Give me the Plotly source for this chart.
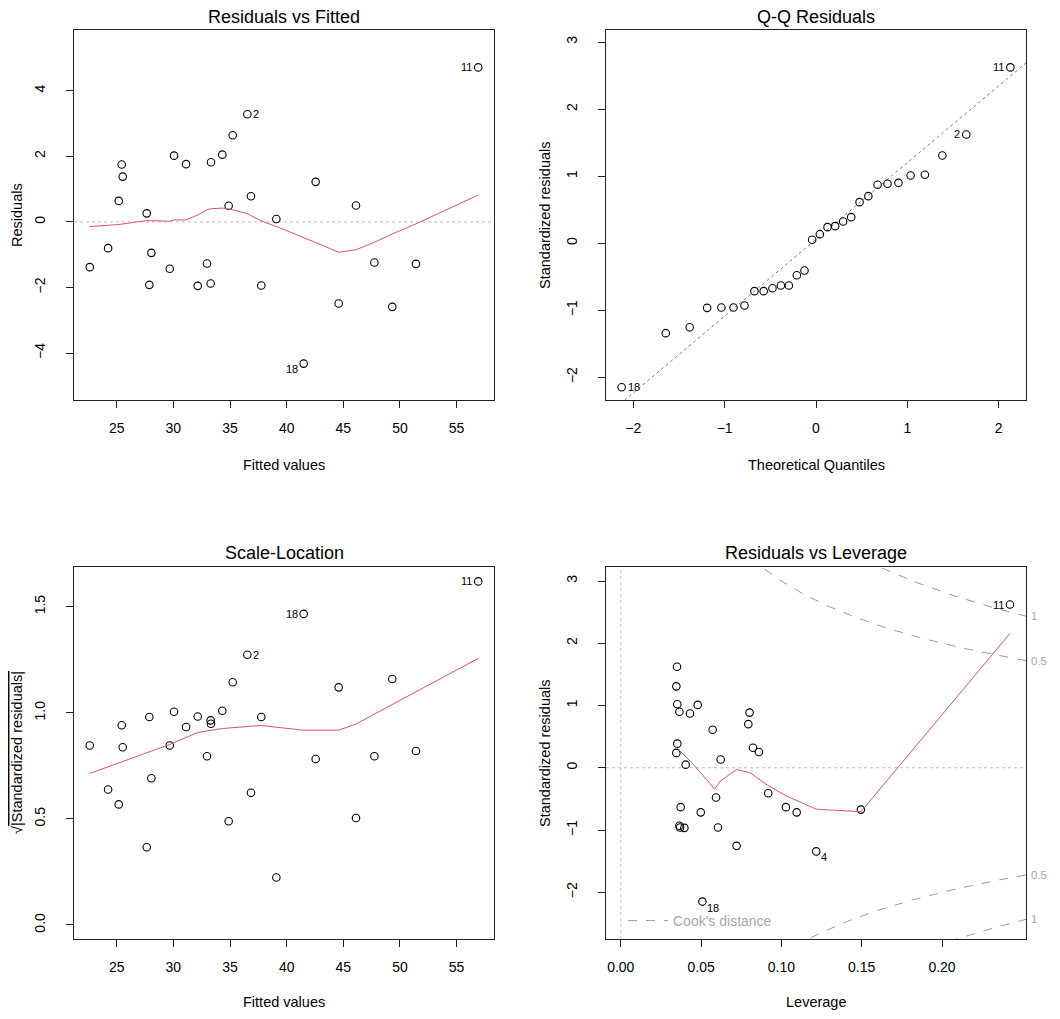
import numpy as np
import plotly.graph_objects as go

# ---------------- data ----------------
id_labels = ["", "", "", "", "", "", "", "", "", "", "", "", "", "", "",
             "", "", "", "2", "", "", "", "18", "", "", "", "", "4", "", "11"]
fitted = [22.62, 24.24, 25.18, 25.44, 25.53, 27.65, 27.88, 28.06, 29.68, 30.06,
          31.12, 32.15, 32.97, 33.29, 33.32, 34.32, 34.88, 35.24, 36.53, 36.85,
          37.76, 39.09, 41.50, 42.56, 44.59, 46.12, 47.74, 49.32, 51.41, 56.91]
residuals = [-1.38, -0.80, 0.64, 1.75, 1.38, 0.26, -1.92, -0.945, -1.43, 2.02,
             1.76, -1.95, -1.27, -1.88, 1.82, 2.05, 0.49, 2.64, 3.28, 0.78,
             -1.94, 0.09, -4.32, 1.22, -2.49, 0.50, -1.24, -2.59, -1.28, 4.71]
std_resid = [-0.716, -0.408, 0.323, 0.886, 0.701, 0.134, -0.960, -0.478, -0.716, 1.010,
             0.871, -0.965, -0.632, -0.930, 0.900, 1.020, 0.239, 1.308, 1.622, 0.388,
             -0.960, 0.050, -2.149, 0.612, -1.254, 0.254, -0.632, -1.343, -0.672, 2.622]
leverage = [0.1095, 0.0918, 0.0823, 0.0802, 0.0794, 0.0622, 0.0605, 0.0593, 0.0498, 0.0479,
            0.0431, 0.0396, 0.0373, 0.0365, 0.0365, 0.0352, 0.0346, 0.0346, 0.0350, 0.0352,
            0.0369, 0.0404, 0.0508, 0.0572, 0.0721, 0.0860, 0.1028, 0.1217, 0.1495, 0.2423]
qq_theoretical = [-2.128, -1.645, -1.383, -1.192, -1.036, -0.903, -0.783, -0.674, -0.573, -0.477,
                  -0.385, -0.297, -0.210, -0.126, -0.042, 0.042, 0.126, 0.210, 0.297, 0.385,
                  0.477, 0.573, 0.674, 0.783, 0.903, 1.036, 1.192, 1.383, 1.645, 2.128]
normal_quartiles = [-0.6745, 0.6745]

# which observations are labelled in each panel
labels_rvf = ["2", "18", "11"]
labels_qq = ["2", "18", "11"]
labels_sl = ["2", "18", "11"]
labels_lev = ["4", "18", "11"]

# smoother (red) lines
smooth_rvf_x = [22.62, 25.18, 27.65, 29.68, 30.06, 31.12, 32.15, 32.97, 33.29, 34.32, 35.24,
                36.53, 37.76, 39.09, 42.56, 44.59, 46.12, 47.74, 49.32, 51.41, 56.91]
smooth_rvf_y = [-0.142, -0.08, 0.04, 0.02, 0.06, 0.06, 0.21, 0.37, 0.40, 0.42, 0.37,
                0.25, 0.03, -0.14, -0.63, -0.925, -0.85, -0.62, -0.37, -0.06, 0.82]
smooth_sl_x = [22.62, 29.68, 32.15, 34.32, 37.76, 41.50, 44.59, 46.12, 51.41, 56.91]
smooth_sl_y = [0.714, 0.851, 0.907, 0.926, 0.940, 0.918, 0.918, 0.947, 1.099, 1.256]
smooth_lev_x = [0.0346, 0.0454, 0.0585, 0.0620, 0.0721, 0.0802, 0.0910, 0.1028, 0.1217, 0.1495, 0.2423]
smooth_lev_y = [0.332, 0.048, -0.343, -0.214, -0.027, -0.075, -0.273, -0.450, -0.664, -0.707, 2.157]

cook_levels = [0.5, 1]
n_params = 2

titles = ["Residuals vs Fitted", "Q-Q Residuals", "Scale-Location", "Residuals vs Leverage"]

# ---------------- styling ----------------
PAGE_OFF = 8            # default body margin of the html page
W, H = 1060 - 2 * PAGE_OFF, 1019 - 2 * PAGE_OFF
FONT = "Liberation Sans, Arial, Helvetica, sans-serif"
RED = "#DF536B"
GRAY = "#BEBEBE"
GRAY50 = "#7F7F7F"
COOK = "#9A9A9A"

def px_x(p):
    return (p - PAGE_OFF) / W

def px_y(p):
    return 1 - (p - PAGE_OFF) / H

dom_left = [px_x(74), px_x(494)]
dom_right = [px_x(606), px_x(1026)]
dom_top = [px_y(400), px_y(30)]
dom_bot = [px_y(939), px_y(567)]

ranges = {
    1: ([21.23, 58.30], [-5.43, 5.85]),
    2: ([-2.299, 2.299], [-2.34, 3.18]),
    3: ([21.23, 58.30], [-0.066, 1.687]),
    4: ([-0.0092, 0.2523], [-2.75, 3.225]),
}

fig = go.Figure()

def marker_trace(x, y, k):
    sfx = "" if k == 1 else str(k)
    return go.Scatter(x=x, y=y, mode="markers", xaxis="x" + sfx, yaxis="y" + sfx,
                      marker=dict(symbol="circle-open", size=7.5, color="black",
                                  line=dict(width=1.1, color="black")),
                      showlegend=False, hoverinfo="skip")

def line_trace(x, y, k, color, dash="solid", width=1, name=None, showlegend=False):
    sfx = "" if k == 1 else str(k)
    return go.Scatter(x=x, y=y, mode="lines", xaxis="x" + sfx, yaxis="y" + sfx,
                      line=dict(color=color, width=width, dash=dash),
                      name=name, showlegend=showlegend, hoverinfo="skip")

fitted_a = np.array(fitted)
resid_a = np.array(residuals)
std_a = np.array(std_resid)
lev_a = np.array(leverage)
sqrt_abs = np.sqrt(np.abs(std_a))

# Panel 1: residuals vs fitted
fig.add_trace(marker_trace(fitted_a, resid_a, 1))
fig.add_trace(line_trace(smooth_rvf_x, smooth_rvf_y, 1, RED))

# Panel 2: Q-Q
order = np.argsort(std_a, kind="stable")
qq_y = std_a[order]
qq_x = np.array(qq_theoretical)
q1, q3 = np.quantile(std_a, [0.25, 0.75])
slope = (q3 - q1) / (normal_quartiles[1] - normal_quartiles[0])
intercept = q1 - slope * normal_quartiles[0]
xr2 = np.array(ranges[2][0])
fig.add_trace(line_trace(xr2, intercept + slope * xr2, 2, GRAY50, dash="dot"))
fig.add_trace(marker_trace(qq_x, qq_y, 2))

# Panel 3: scale-location
fig.add_trace(marker_trace(fitted_a, sqrt_abs, 3))
fig.add_trace(line_trace(smooth_sl_x, smooth_sl_y, 3, RED))

# Panel 4: residuals vs leverage
fig.add_trace(marker_trace(lev_a, std_a, 4))
fig.add_trace(line_trace(smooth_lev_x, smooth_lev_y, 4, RED))
hh = np.linspace(lev_a.max() / 100, ranges[4][0][1], 101)
first = True
for lvl in cook_levels:
    cl = np.sqrt(lvl * n_params * (1 - hh) / hh)
    for sgn in (1, -1):
        fig.add_trace(line_trace(hh, sgn * cl, 4, COOK, dash="dash", width=1,
                                 name="Cook's distance", showlegend=first))
        first = False

# ---------------- axes ----------------
ax_common = dict(showline=True, mirror=True, linecolor="#222222", linewidth=1,
                 ticks="outside", ticklen=7, tickcolor="#222222", tickwidth=1,
                 showgrid=False, zeroline=False,
                 tickfont=dict(family=FONT, size=14, color="black"))

xticks = {1: [25, 30, 35, 40, 45, 50, 55], 2: [-2, -1, 0, 1, 2],
          3: [25, 30, 35, 40, 45, 50, 55], 4: [0, 0.05, 0.10, 0.15, 0.20]}
yticks = {1: [-4, -2, 0, 2, 4], 2: [-2, -1, 0, 1, 2, 3],
          3: [0, 0.5, 1.0, 1.5], 4: [-2, -1, 0, 1, 2, 3]}
xfmt = {1: "d", 2: "d", 3: "d", 4: ".2f"}
yfmt = {1: "d", 2: "d", 3: ".1f", 4: "d"}
xdom = {1: dom_left, 2: dom_right, 3: dom_left, 4: dom_right}
ydom = {1: dom_top, 2: dom_top, 3: dom_bot, 4: dom_bot}

layout_axes = {}
for k in range(1, 5):
    sfx = "" if k == 1 else str(k)
    layout_axes["xaxis" + sfx] = dict(ax_common, domain=xdom[k], range=ranges[k][0],
                                      anchor="y" + sfx, tickvals=xticks[k],
                                      tickformat=xfmt[k], ticklabelstandoff=8)
    layout_axes["yaxis" + sfx] = dict(ax_common, domain=ydom[k], range=ranges[k][1],
                                      anchor="x" + sfx, tickvals=yticks[k],
                                      tickformat=yfmt[k], tickangle=-90,
                                      ticklabelstandoff=15)

# ---------------- annotations ----------------
ann = []
title_pos = [(284, 17), (816, 17), (284, 553), (816, 553)]
for t, (cx, cy) in zip(titles, title_pos):
    ann.append(dict(text=t, x=px_x(cx), y=px_y(cy), xref="paper", yref="paper",
                    showarrow=False, xanchor="center", yanchor="middle",
                    font=dict(family=FONT, size=18, color="black")))

xlabels = [("Fitted values", 284, 465), ("Theoretical Quantiles", 816, 465),
           ("Fitted values", 284, 1002), ("Leverage", 816, 1002)]
for t, cx, cy in xlabels:
    ann.append(dict(text=t, x=px_x(cx), y=px_y(cy), xref="paper", yref="paper",
                    showarrow=False, xanchor="center", yanchor="middle",
                    font=dict(family=FONT, size=14.5, color="black")))

ylabels = [("Residuals", 17, 215), ("Standardized residuals", 545, 215),
           ("\u221a<span style='text-decoration:overline'>|Standardized residuals|</span>", 17, 753),
           ("Standardized residuals", 545, 753)]
for t, cx, cy in ylabels:
    ann.append(dict(text=t, x=px_x(cx), y=px_y(cy), xref="paper", yref="paper",
                    showarrow=False, xanchor="center", yanchor="middle", textangle=-90,
                    font=dict(family=FONT, size=14.5, color="black")))

id_font = dict(family=FONT, size=11, color="black")

def id_ann(k, x, y, text, side, yshift=0):
    sfx = "" if k == 1 else str(k)
    base = dict(text=text, x=float(x), y=float(y), xref="x" + sfx, yref="y" + sfx,
                showarrow=False, yanchor="middle", font=id_font)
    if side == "left":
        base.update(xanchor="right", xshift=-4, yshift=yshift)
    elif side == "right":
        base.update(xanchor="left", xshift=4, yshift=yshift)
    else:  # below-right
        base.update(xanchor="left", xshift=3, yshift=-6)
    return base

mid1 = np.mean(ranges[1][0])
for i, lab in enumerate(id_labels):
    if lab in labels_rvf:
        side = "left" if fitted[i] > mid1 else "right"
        ann.append(id_ann(1, fitted[i], residuals[i], lab, side,
                          -5 if residuals[i] < -3 else 0))
    if lab in labels_sl:
        side = "left" if fitted[i] > mid1 else "right"
        ann.append(id_ann(3, fitted[i], sqrt_abs[i], lab, side))
    if lab in labels_lev:
        side4 = "left" if leverage[i] > 0.2 else "below"
        ann.append(id_ann(4, leverage[i], std_resid[i], lab, side4))

for j, idx in enumerate(order):
    lab = id_labels[idx]
    if lab in labels_qq:
        side = "left" if qq_x[j] > 0 else "right"
        ann.append(id_ann(2, qq_x[j], qq_y[j], lab, side))

# Cook's distance contour labels on the right margin
xr = ranges[4][0][1]
for lvl in cook_levels:
    v = np.sqrt(lvl * n_params * (1 - xr) / xr)
    for sgn in (1, -1):
        ann.append(dict(text=f"{lvl:g}", x=1, y=float(sgn * v), xref="x4 domain", yref="y4",
                        showarrow=False, xanchor="left", yanchor="middle", xshift=3,
                        font=dict(family=FONT, size=11.5, color="#A8A8A8")))

shapes = [
    dict(type="line", xref="x domain", yref="y", x0=0, x1=1, y0=0, y1=0,
         line=dict(color=GRAY, width=1, dash="dot"), layer="below"),
    dict(type="line", xref="x4 domain", yref="y4", x0=0, x1=1, y0=0, y1=0,
         line=dict(color=GRAY, width=1, dash="dot"), layer="below"),
    dict(type="line", xref="x4", yref="y4 domain", x0=0, x1=0, y0=0, y1=1,
         line=dict(color=GRAY, width=1, dash="dot"), layer="below"),
]

fig.update_layout(
    width=W, height=H, autosize=False,
    margin=dict(l=0, r=0, t=0, b=0),
    paper_bgcolor="white", plot_bgcolor="white",
    font=dict(family=FONT, size=14, color="black"),
    annotations=ann, shapes=shapes,
    showlegend=True,
    legend=dict(x=px_x(623), y=px_y(921), xanchor="left", yanchor="middle",
                bgcolor="rgba(0,0,0,0)", borderwidth=0,
                font=dict(family=FONT, size=14, color="#A8A8A8"),
                itemwidth=40, tracegroupgap=0),
    **layout_axes,
)

fig.write_html("out.html")
